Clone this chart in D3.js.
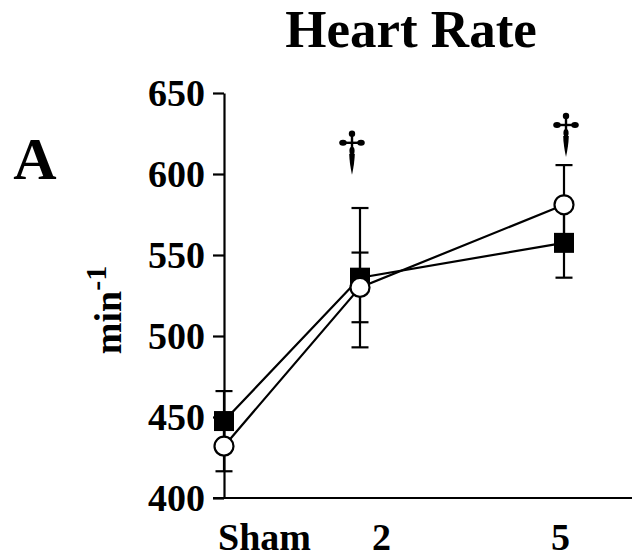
<!DOCTYPE html>
<html><head><meta charset="utf-8">
<script src="https://cdn.jsdelivr.net/npm/d3@7"></script>
<style>
html,body{margin:0;padding:0;background:#fff;}
svg{display:block;font-family:"Liberation Serif","Times New Roman",serif;font-weight:bold;}
</style></head><body>
<svg id="chart" width="633" height="557"></svg>
<script>
// ---- data ----
const groups = ["Sham", "2", "5"];          // x categories (weeks)
const groupX = [0, 2, 5];                    // numeric position of each group
const squareMean = [447.5, 536, 557.5];
const squareErr  = [18.5, 43, 21.5];
const circleMean = [432, 530, 581];
const circleErr  = [15.5, 21.5, 24.5];
const yTicks = [400, 450, 500, 550, 600, 650];
const daggerGroups = ["2", "5"];
const daggerTip = [599.5, 610.5];            // value at the dagger's lower tip
const title = "Heart Rate";
const panel = "A";

// ---- layout ----
const svg = d3.select("#chart");
const x = d3.scaleLinear().domain([0, 6]).range([224, 632]);
const y = d3.scaleLinear().domain([400, 650]).range([498, 93]);

// title and panel letter
svg.append("text").attr("x", 411).attr("y", 47).attr("text-anchor", "middle")
  .attr("font-size", 53).text(title);
svg.append("text").attr("x", 35).attr("y", 179).attr("text-anchor", "middle")
  .attr("font-size", 60).text(panel);

// y axis
const yAxis = svg.append("g").attr("transform", `translate(${x(0)},0)`)
  .call(d3.axisLeft(y).tickValues(yTicks).tickSize(11).tickSizeOuter(0).tickPadding(8));
yAxis.select(".domain").attr("stroke", "#000").attr("stroke-width", 2.2);
yAxis.selectAll(".tick line").attr("stroke", "#000").attr("stroke-width", 2.2);
yAxis.selectAll(".tick text").attr("font-size", 38).attr("font-family", "Liberation Serif")
  .attr("font-weight", "bold").attr("fill", "#000").attr("dy", "0.34em");

// x axis (line only, labels below)
const xAxis = svg.append("g").attr("transform", `translate(0,${y(400)})`)
  .call(d3.axisBottom(x).tickValues(groupX).tickFormat((d, i) => groups[i]).tickSize(0).tickSizeOuter(0).tickPadding(0));
xAxis.select(".domain").attr("stroke", "#000").attr("stroke-width", 2.2)
  .attr("d", `M${x(0) - 11},0H${x(6)}`);
const labelShift = [40, 21, -4];
xAxis.selectAll(".tick text").attr("font-size", 38).attr("font-family", "Liberation Serif")
  .attr("font-weight", "bold").attr("fill", "#000").attr("dy", 0).attr("y", 52)
  .attr("dx", (d, i) => labelShift[i]);

// y label
const yl = svg.append("text").attr("transform", "translate(121,310) rotate(-90)")
  .attr("text-anchor", "middle").attr("font-size", 38);
yl.append("tspan").text("min");
yl.append("tspan").attr("font-size", 30).attr("dy", -15).text("-1");

// error bars
function errBars(mean, err) {
  const g = svg.append("g").attr("stroke", "#000").attr("stroke-width", 2.2);
  groupX.forEach((gx, i) => {
    const cx = x(gx), top = y(mean[i] + err[i]), bot = y(mean[i] - err[i]);
    g.append("line").attr("x1", cx).attr("x2", cx).attr("y1", top).attr("y2", bot);
    g.append("line").attr("x1", cx - 8.5).attr("x2", cx + 8.5).attr("y1", top).attr("y2", top);
    g.append("line").attr("x1", cx - 8.5).attr("x2", cx + 8.5).attr("y1", bot).attr("y2", bot);
  });
}
errBars(squareMean, squareErr);
errBars(circleMean, circleErr);

// lines
const line = d3.line().x((d, i) => x(groupX[i])).y(d => y(d));
svg.append("path").datum(squareMean).attr("d", line).attr("fill", "none").attr("stroke", "#000").attr("stroke-width", 2.2);
svg.append("path").datum(circleMean).attr("d", line).attr("fill", "none").attr("stroke", "#000").attr("stroke-width", 2.2);

// markers
svg.append("g").selectAll("rect").data(squareMean).join("rect")
  .attr("x", (d, i) => x(groupX[i]) - 10).attr("y", d => y(d) - 10)
  .attr("width", 20).attr("height", 20).attr("fill", "#000");
svg.append("g").selectAll("circle").data(circleMean).join("circle")
  .attr("cx", (d, i) => x(groupX[i])).attr("cy", d => y(d)).attr("r", 9.5)
  .attr("fill", "#fff").attr("stroke", "#000").attr("stroke-width", 2.2);

// significance daggers (ornate cross glyph drawn as a small path group)
const daggerShift = [-8, 2];
const dg = svg.append("g").selectAll("g").data(daggerGroups).join("g")
  .attr("transform", (d, i) => `translate(${x(groupX[groups.indexOf(d)]) + daggerShift[i]},${y(daggerTip[i])})`);
dg.append("line").attr("x1", 0).attr("x2", 0).attr("y1", -41).attr("y2", -24).attr("stroke", "#000").attr("stroke-width", 2.4);
dg.append("line").attr("x1", -9).attr("x2", 9).attr("y1", -32).attr("y2", -32).attr("stroke", "#000").attr("stroke-width", 2.4);
dg.append("circle").attr("cx", 0).attr("cy", -41).attr("r", 3.2);
dg.append("ellipse").attr("cx", -9).attr("cy", -32).attr("rx", 3.8).attr("ry", 3);
dg.append("ellipse").attr("cx", 9).attr("cy", -32).attr("rx", 3.8).attr("ry", 3);
dg.append("ellipse").attr("cx", 0).attr("cy", -24).attr("rx", 2.6).attr("ry", 4);
dg.append("path").attr("d", "M-2.8,-21 Q-2.6,-12 0,0 Q2.6,-12 2.8,-21 Z");
</script></body></html>
